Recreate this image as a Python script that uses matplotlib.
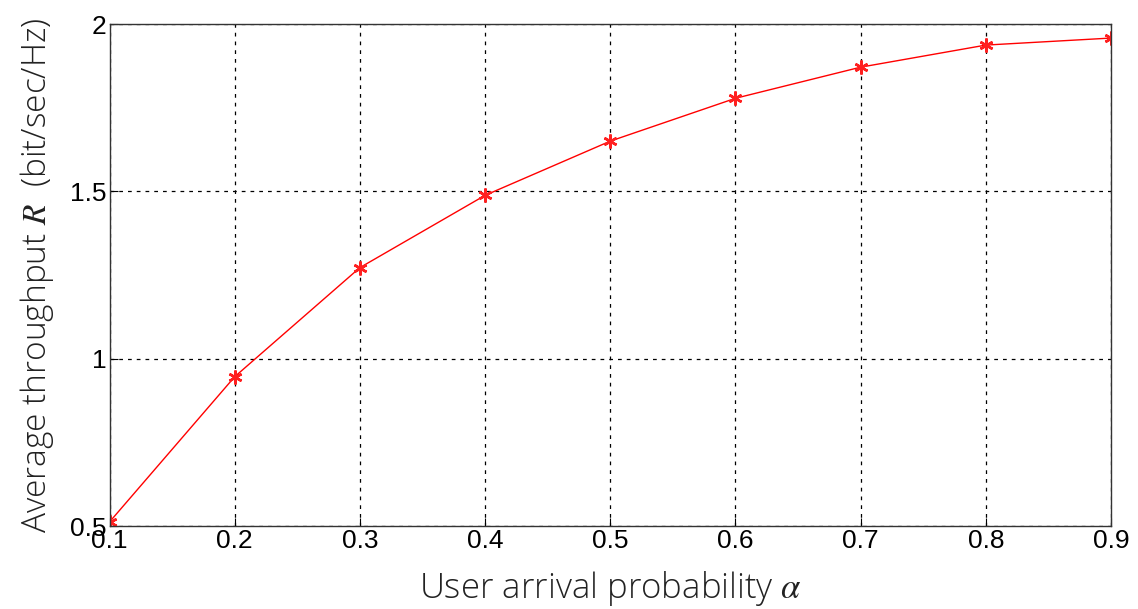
import matplotlib.pyplot as plt

# arrival probability vs average throughput
alpha = [0.1, 0.2, 0.3, 0.4, 0.5, 0.6, 0.7, 0.8, 0.9]
throughput = [0.512, 0.946, 1.272, 1.488, 1.650, 1.778, 1.871, 1.937, 1.958]
xticks = [0.1, 0.2, 0.3, 0.4, 0.5, 0.6, 0.7, 0.8, 0.9]
yticks = [0.5, 1, 1.5, 2]
yticklabels = ["0.5", "1", "1.5", "2"]

plt.rcParams['mathtext.fontset'] = 'stix'

fig = plt.figure(figsize=(11.38, 6.09), dpi=100)
ax = fig.add_axes([109.5 / 1138, 1 - 526 / 609, (1111 - 109.5) / 1138, (526 - 24) / 609])

ax.plot(alpha, throughput, color='#ff0000', lw=1.0, marker=(6, 2, 0), ms=10, mew=1.8, mec='#ff2020')

ax.set_xlim(0.1, 0.9)
ax.set_ylim(0.5, 2)
ax.set_xticks(xticks)
ax.set_xticklabels([f"{t:.1f}" for t in xticks])
ax.set_yticks(yticks)
ax.set_yticklabels(yticklabels)
ax.grid(True, color='black', ls=(0, (3, 4)), lw=0.9)
ax.tick_params(direction='in', length=6, labelsize=19, pad=2, colors='black')
for lab in ax.get_xticklabels() + ax.get_yticklabels():
    lab.set_family('Liberation Sans')
for s in ax.spines.values():
    s.set_color('#333333')
    s.set_linewidth(1.0)

ax.set_xlabel(r"User arrival probability $\mathit{\alpha}$", fontsize=25, family='Open Sans',
              weight='light', color='#222222', labelpad=12)
ax.set_ylabel(r"Average throughput $\mathbf{\mathit{R}}$  (bit/sec/Hz)",
              fontsize=24, family='Open Sans', weight='light', color='#222222', labelpad=10)

fig.savefig("out.png", dpi=100)
